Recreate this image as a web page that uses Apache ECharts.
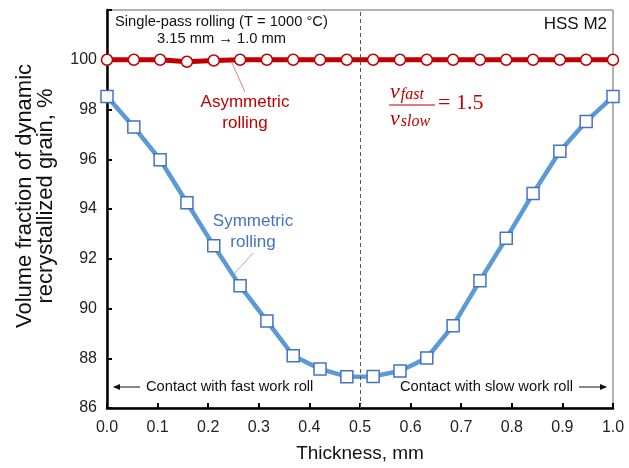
<!DOCTYPE html>
<html>
<head>
<meta charset="utf-8">
<script src="https://cdn.jsdelivr.net/npm/echarts@6/dist/echarts.min.js"></script>
<style>
  html, body { margin: 0; padding: 0; background: #fff; }
  #chart { width: 629px; height: 468px; }
</style>
</head>
<body>
<div id="chart"></div>
<script>
// thickness positions (20 points across the strip)
var thickness = [0.000, 0.053, 0.105, 0.158, 0.211, 0.263, 0.316, 0.368, 0.421, 0.474,
                 0.526, 0.579, 0.632, 0.684, 0.737, 0.789, 0.842, 0.895, 0.947, 1.000];
var symmetric = [98.52, 97.30, 95.98, 94.25, 92.52, 90.91, 89.50, 88.10, 87.57, 87.26,
                 87.27, 87.49, 88.01, 89.31, 91.12, 92.82, 94.62, 96.32, 97.52, 98.52];
var asymmetric = [100, 100, 100, 99.92, 99.97, 100, 100, 100, 100, 100,
                  100, 100, 100, 100, 100, 100, 100, 100, 100, 100];
var xTicks = [0, 0.1, 0.2, 0.3, 0.4, 0.5, 0.6, 0.7, 0.8, 0.9, 1.0];
var yTicks = [86, 88, 90, 92, 94, 96, 98, 100];

function pairs(xs, ys) {
    return xs.map(function (x, i) { return [x, ys[i]]; });
}

var dom = document.getElementById('chart');
var myChart = echarts.init(dom, null, { renderer: 'canvas' });

var font = 'Liberation Sans, Arial, sans-serif';
var serif = '"Liberation Serif", "Times New Roman", serif';
var red = '#c00000';
var blue = '#4472c4';

var mathRich = {
    v: { fontFamily: serif, fontStyle: 'italic', fontSize: 22, fill: red, verticalAlign: 'bottom' },
    s: { fontFamily: serif, fontStyle: 'italic', fontSize: 16, fill: red, verticalAlign: 'bottom', padding: [7, 0, 0, 1] }
};

var option = {
    backgroundColor: '#fff',
    animation: false,
    textStyle: { fontFamily: font },
    grid: {
        left: 107, right: 16, top: 10, bottom: 60,
        show: true, borderColor: '#666', borderWidth: 1
    },
    xAxis: {
        type: 'value',
        min: 0, max: 1, interval: 0.1,
        name: 'Thickness, mm',
        nameLocation: 'middle',
        nameGap: 36,
        nameTextStyle: { fontSize: 19, color: '#111', fontFamily: font },
        axisLine: { lineStyle: { color: '#000', width: 2.5 } },
        axisTick: { inside: true, length: 5, lineStyle: { color: '#000', width: 2 } },
        axisLabel: {
            fontSize: 16, color: '#222', margin: 12,
            formatter: function (v) { return v.toFixed(1); }
        },
        splitLine: { show: false }
    },
    yAxis: {
        type: 'value',
        min: 86, max: 102, interval: 2,
        name: 'Volume fraction of dynamic\nrecrystallized grain, %',
        nameLocation: 'middle',
        nameGap: 51,
        nameTextStyle: { fontSize: 22, color: '#111', lineHeight: 21, fontFamily: font,
                         padding: [0, 0, 0, 26] },
        axisLine: { lineStyle: { color: '#000', width: 2.5 } },
        axisTick: { inside: true, length: 5, lineStyle: { color: '#000', width: 2 } },
        axisLabel: {
            fontSize: 16, color: '#222', margin: 10,
            formatter: function (v) { return yTicks.indexOf(v) >= 0 ? String(v) : ''; }
        },
        splitLine: { show: false }
    },
    series: [
        {
            name: 'Asymmetric rolling',
            type: 'line',
            data: pairs(thickness, asymmetric),
            symbol: 'circle',
            symbolSize: 11,
            lineStyle: { color: red, width: 5 },
            itemStyle: { color: '#fff', borderColor: red, borderWidth: 1.5 },
            z: 4
        },
        {
            name: 'Symmetric rolling',
            type: 'line',
            data: pairs(thickness, symmetric),
            symbol: 'rect',
            symbolSize: 12,
            lineStyle: { color: '#5b9bd5', width: 4.5 },
            itemStyle: { color: '#fff', borderColor: blue, borderWidth: 1.5 },
            z: 3,
            markLine: {
                silent: true,
                symbol: 'none',
                label: { show: false },
                lineStyle: { color: '#555', type: [4, 3], width: 1 },
                data: [{ xAxis: 0.5 }]
            }
        }
    ],
    graphic: [
        { type: 'text', left: 115, top: 14,
          style: { text: 'Single-pass rolling (T = 1000 °C)', fill: '#111', font: '14.7px ' + font } },
        { type: 'text', left: 157, top: 31,
          style: { text: '3.15 mm \u2192 1.0 mm', fill: '#111', font: '14.7px ' + font } },
        { type: 'text', right: 22, top: 16,
          style: { text: 'HSS M2', fill: '#111', font: '17px ' + font } },
        // asymmetric label + leader
        { type: 'line', shape: { x1: 232, y1: 63, x2: 245, y2: 92 },
          style: { stroke: '#e06060', lineWidth: 0.8 } },
        { type: 'text', x: 245, y: 92,
          style: { text: 'Asymmetric\nrolling', fill: red, align: 'center', lineHeight: 21,
                   font: '17px ' + font } },
        // symmetric label + leader
        { type: 'line', shape: { x1: 235, y1: 273, x2: 253, y2: 253 },
          style: { stroke: '#6f9ed8', lineWidth: 0.8 } },
        { type: 'text', x: 253, y: 211,
          style: { text: 'Symmetric\nrolling', fill: blue, align: 'center', lineHeight: 21,
                   font: '17px ' + font } },
        // velocity ratio
        { type: 'text', x: 390, y: 80, style: { text: '{v|v}{s|fast}', rich: mathRich } },
        { type: 'line', shape: { x1: 389, y1: 105, x2: 435, y2: 105 },
          style: { stroke: red, lineWidth: 1.2 } },
        { type: 'text', x: 390, y: 107, style: { text: '{v|v}{s|slow}', rich: mathRich } },
        { type: 'text', x: 438, y: 92,
          style: { text: '= 1.5', fill: red, font: '22px ' + serif } },
        // contact annotations
        { type: 'line', shape: { x1: 114, y1: 387, x2: 140, y2: 387 },
          style: { stroke: '#111', lineWidth: 1 } },
        { type: 'polygon', shape: { points: [[113, 387], [120, 384], [120, 390]] },
          style: { fill: '#111' } },
        { type: 'text', x: 146, y: 379,
          style: { text: 'Contact with fast work roll', fill: '#111', font: '14.7px ' + font } },
        { type: 'text', x: 400, y: 379,
          style: { text: 'Contact with slow work roll', fill: '#111', font: '14.7px ' + font } },
        { type: 'line', shape: { x1: 579, y1: 387, x2: 606, y2: 387 },
          style: { stroke: '#111', lineWidth: 1 } },
        { type: 'polygon', shape: { points: [[607, 387], [600, 384], [600, 390]] },
          style: { fill: '#111' } }
    ]
};

if (option && typeof option === 'object') {
    myChart.setOption(option);
}

window.addEventListener('resize', myChart.resize);
</script>
</body>
</html>
